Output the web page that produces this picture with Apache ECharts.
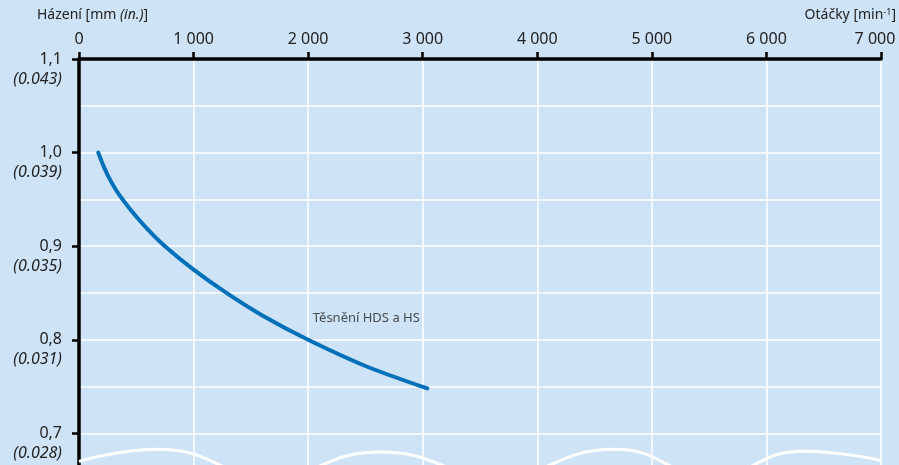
<!DOCTYPE html>
<html>
<head>
<meta charset="utf-8">
<script src="https://cdn.jsdelivr.net/npm/echarts@6/dist/echarts.min.js"></script>
<style>
  html, body { margin: 0; padding: 0; background: #cfe3f6; }
  #chart { width: 899px; height: 465px; }
</style>
</head>
<body>
<div id="chart"></div>
<script>
// Stroke (mm) versus speed (min-1) for HDS and HS seals
const speedRpm = [168, 220, 280, 350, 450, 600, 750, 1000, 1300, 1600, 2000, 2500, 3040];
const strokeMm = [1.000, 0.984, 0.969, 0.955, 0.939, 0.918, 0.900, 0.875, 0.849, 0.826, 0.800, 0.772, 0.748];

// tick labels of the stroke axis: mm and inch equivalents
const strokeTicksMm = [0.7, 0.8, 0.9, 1.0, 1.1];
const strokeTicksMmText = ['0,7', '0,8', '0,9', '1,0', '1,1'];
const strokeTicksInText = ['(0.028)', '(0.031)', '(0.035)', '(0.039)', '(0.043)'];

// wavy "axis break" line along the lower edge
const breakWaveX = [0, 689, 1667, 2627, 3648, 4677, 5524, 6318, 7000];
const breakWaveY = [0.670, 0.683, 0.655, 0.680, 0.655, 0.683, 0.655, 0.681, 0.671];

// curve annotation
const seriesLabel = 'Těsnění HDS a HS';
const seriesLabelAt = [2040, 0.823];

const SPEED_MAX = 7000;
const FONT = 'Noto Sans';
const TEXT = '#222222';

function thousands(v) {
  const s = String(v).replace(/\B(?=(\d{3})+(?!\d))/g, '\u00a0');
  // keep the last label inside the canvas
  return v === SPEED_MAX ? '{last|' + s + '}' : s;
}

const chart = echarts.init(document.getElementById('chart'));

chart.setOption({
  backgroundColor: '#cfe3f6',
  animation: false,
  textStyle: { fontFamily: FONT },
  grid: { left: 79, right: 18, top: 59, bottom: -62, outerBoundsMode: 'none', containLabel: false },
  xAxis: {
    type: 'value',
    position: 'top',
    min: 0, max: SPEED_MAX, interval: 1000,
    axisLine: { show: true, onZero: false, lineStyle: { color: '#000', width: 3.5 } },
    axisTick: { show: true, length: 7, lineStyle: { color: '#000', width: 2.5 } },
    axisLabel: {
      color: TEXT, fontSize: 16, margin: 12, formatter: thousands,
      rich: { last: { color: TEXT, fontSize: 16, fontFamily: FONT, padding: [0, 12, 0, 0] } }
    },
    splitLine: { show: true, lineStyle: { color: '#ffffff', width: 1.5 } }
  },
  yAxis: {
    type: 'value',
    min: 0.6, max: 1.1, interval: 0.1,
    axisLine: { show: true, onZero: false, lineStyle: { color: '#000', width: 3.5 } },
    axisTick: { show: true, length: 7, lineStyle: { color: '#000', width: 2.5 } },
    axisLabel: {
      margin: 17,
      padding: [20, 0, 0, 0],
      formatter: function (v) {
        const i = strokeTicksMm.findIndex(t => Math.abs(t - v) < 1e-6);
        if (i < 0) return '';
        return '{a|' + strokeTicksMmText[i] + '}\n{b|' + strokeTicksInText[i] + '}';
      },
      rich: {
        a: { color: TEXT, fontSize: 16, fontFamily: FONT, lineHeight: 20, align: 'right' },
        b: { color: TEXT, fontSize: 16, fontFamily: FONT, fontStyle: 'italic', lineHeight: 20, align: 'right' }
      }
    },
    splitLine: { show: true, lineStyle: { color: '#ffffff', width: 1.5 } },
    minorTick: { show: false, splitNumber: 2 },
    minorSplitLine: { show: true, lineStyle: { color: '#ffffff', width: 1.5 } }
  },
  graphic: [
    {
      type: 'text', left: 37, top: 8,
      style: {
        text: '{n|Házení [mm }{i|(in.)}{n|]}',
        rich: {
          n: { fontFamily: FONT, fontSize: 14, fill: TEXT },
          i: { fontFamily: FONT, fontSize: 14, fontStyle: 'italic', fill: TEXT }
        }
      }
    },
    {
      type: 'text', right: 3, top: 8,
      style: {
        text: '{n|Otáčky [min}{s|-1}{n|]}',
        rich: {
          n: { fontFamily: FONT, fontSize: 14, fill: TEXT },
          s: { fontFamily: FONT, fontSize: 9, fill: TEXT, verticalAlign: 'top', padding: [0, 0, 6, 0] }
        }
      }
    }
  ],
  series: [
    {
      type: 'line',
      silent: true,
      smooth: 0.5,
      symbol: 'none',
      lineStyle: { color: '#ffffff', width: 3 },
      data: breakWaveX.map((x, i) => [x, breakWaveY[i]]),
      z: 3
    },
    {
      type: 'line',
      smooth: 0.3,
      symbol: 'none',
      lineStyle: { color: '#0070b9', width: 4, cap: 'round' },
      data: speedRpm.map((x, i) => [x, strokeMm[i]]),
      z: 5
    },
    {
      type: 'scatter',
      symbolSize: 0,
      silent: true,
      data: [seriesLabelAt],
      label: {
        show: true, position: 'right', distance: 0,
        formatter: seriesLabel,
        color: TEXT, fontSize: 13, fontFamily: FONT
      }
    }
  ]
});
</script>
</body>
</html>
